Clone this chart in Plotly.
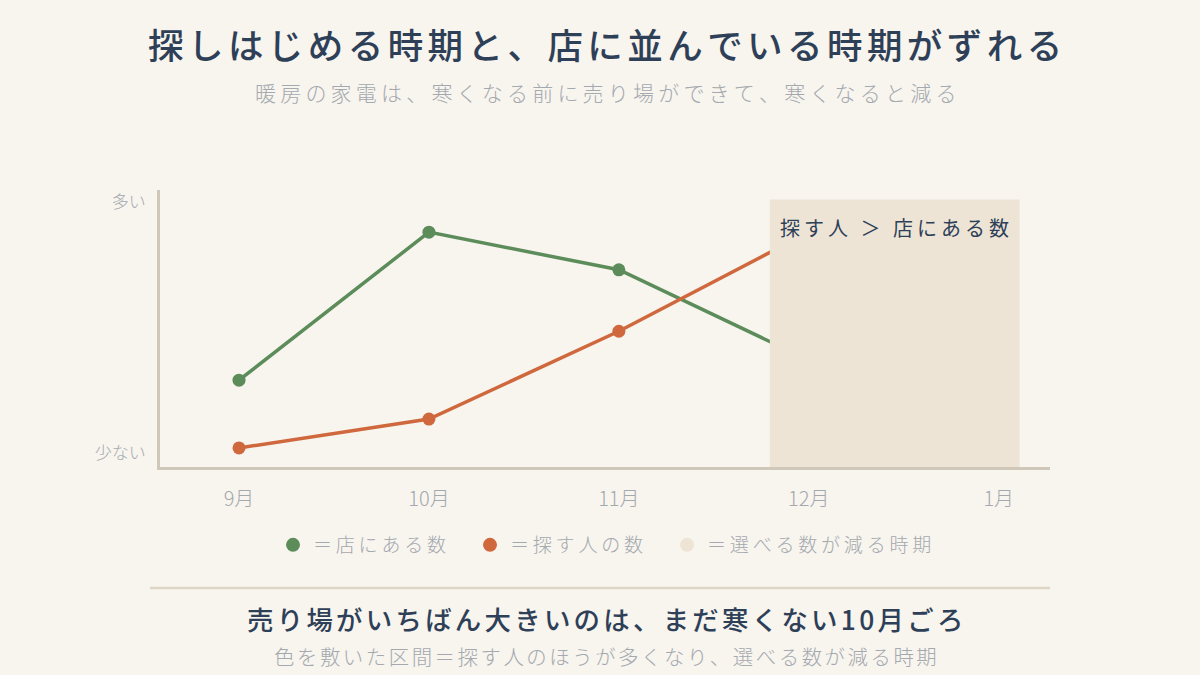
import plotly.graph_objects as go

months = ['9月', '10月', '11月', '12月', '1月']
x_idx = [0, 1, 2, 3, 4]

# 店にある数 / 探す人の数 (0 = 少ない, 100 = 多い)
stock = [29, 88, 73, 37, 25]
seekers = [2, 13.5, 48.5, 88, 95]

shade_start = 2.795
shade_end = 4.11

green = '#5B8C5A'
orange = '#D0683E'
beige = '#EDE4D6'
navy = '#2E4057'
gray = '#A3A9AF'
bg = '#F8F4EE'
font = 'Noto Sans CJK JP'

HS = '\u200a'   # hair space
TS = '\u2009'   # thin space


def sp(s, gap=HS):
    # poor man's letter spacing
    return gap.join(s)


# plot area in pixels: top 190, bottom 467
def py(p):
    return (467 - p) / 277


fig = go.Figure()

fig.add_trace(go.Scatter(
    x=x_idx, y=stock, mode='lines+markers', name='店にある数',
    line=dict(color=green, width=3.5), marker=dict(size=13, color=green),
    showlegend=False))
fig.add_trace(go.Scatter(
    x=x_idx, y=seekers, mode='lines+markers', name='探す人の数',
    line=dict(color=orange, width=3.5), marker=dict(size=13, color=orange),
    showlegend=False))

# legend-only items
legend_items = [('＝店にある数', green, '　'), ('＝探す人の数', orange, '　'),
                ('＝選べる数が減る時期', beige, '')]
for nm, col, tail in legend_items:
    fig.add_trace(go.Scatter(x=[None], y=[None], mode='markers', name=sp(nm, TS) + tail,
                             marker=dict(size=14, color=col)))

fig.add_shape(type='rect', xref='x', yref='y', x0=shade_start, x1=shade_end,
              y0=-5.6, y1=101, fillcolor=beige, line=dict(width=0), layer='above')

fig.add_annotation(x=(shade_start + shade_end) / 2, y=90, xref='x', yref='y',
                   text=sp('探す人 ＞ 店にある数', TS), showarrow=False,
                   font=dict(size=20, color=navy, family=font))
fig.add_annotation(x=1, y=110, xref='x', yref='y', text=sp('店にある数'), showarrow=False,
                   font=dict(size=22, color=green, family=font, weight=500))
fig.add_annotation(x=3.37, y=110, xref='x', yref='y', text=sp('探す人の数'), showarrow=False,
                   font=dict(size=22, color=orange, family=font, weight=500))

# title block
fig.add_annotation(x=0.5, y=py(43), xref='paper', yref='paper', xanchor='center',
                   yanchor='middle', text=sp('探しはじめる時期と、店に並んでいる時期がずれる', HS * 2),
                   showarrow=False, font=dict(size=35.5, color=navy, family=font, weight=500))
fig.add_annotation(x=0.5, y=py(92), xref='paper', yref='paper', xanchor='center',
                   yanchor='middle', text=sp('暖房の家電は、寒くなる前に売り場ができて、寒くなると減る', TS),
                   showarrow=False, font=dict(size=21, color=gray, family=font, weight=300))

# bottom block
fig.add_shape(type='line', xref='paper', yref='paper', x0=-10 / 890, x1=890 / 890,
              y0=py(588), y1=py(588), line=dict(color='#DDD5C6', width=2.5))
fig.add_annotation(x=0.5, y=py(618), xref='paper', yref='paper', xanchor='center',
                   yanchor='middle', text=sp('売り場がいちばん大きいのは、まだ寒くない10月ごろ', HS * 2),
                   showarrow=False, font=dict(size=26.4, color=navy, family=font, weight=500))
fig.add_annotation(x=0.5, y=py(656), xref='paper', yref='paper', xanchor='center',
                   yanchor='middle', text=sp('色を敷いた区間＝探す人のほうが多くなり、選べる数が減る時期', HS * 2),
                   showarrow=False, font=dict(size=20.4, color=gray, family=font, weight=300))

fig.update_layout(
    width=1200, height=675,
    paper_bgcolor=bg, plot_bgcolor=bg,
    margin=dict(l=160, r=150, t=190, b=208),
    font=dict(family=font, color=gray),
    legend=dict(orientation='h', x=0.5, xanchor='center', y=1 - 545 / 675, yanchor='middle',
                yref='container', font=dict(size=19, color=gray, weight=300), itemwidth=30,
                tracegroupgap=0, bgcolor='rgba(0,0,0,0)'),
    xaxis=dict(range=[-0.416, 4.27], tickvals=x_idx, ticktext=months, showgrid=False,
               zeroline=False, showline=True, linecolor='#CFC7B8', linewidth=2.5,
               tickfont=dict(size=20, color=gray, weight=300), ticks='', ticklabelstandoff=12),
    yaxis=dict(range=[-5.6, 104.8], tickvals=[0, 100], ticktext=['少ない', '多い'],
               showgrid=False, zeroline=False, showline=True, linecolor='#CFC7B8',
               linewidth=2.5, tickfont=dict(size=17, color=gray, weight=300), ticks='',
               ticklabelstandoff=8),
)

fig.write_html('out.html', config={'displayModeBar': False},
               post_script="document.body.style.margin='0';document.body.style.background='#F8F4EE';")
